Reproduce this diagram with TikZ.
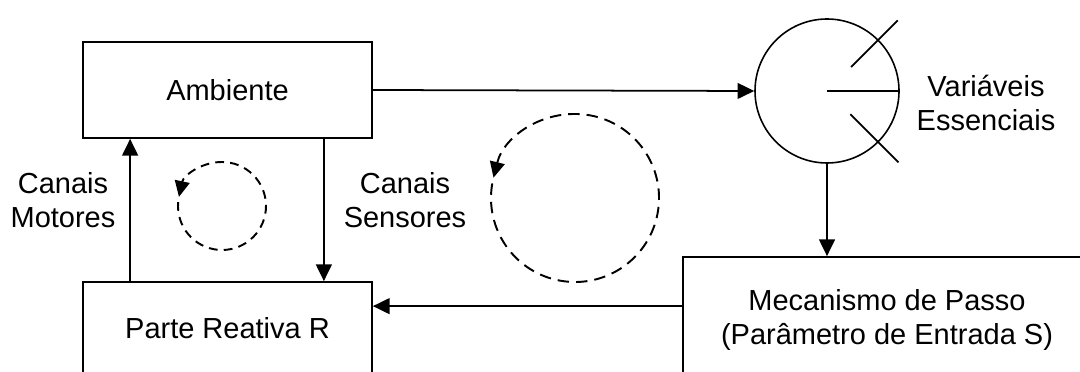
\documentclass[tikz,border=0pt]{standalone}
\usepackage{fontspec}
\setmainfont{Liberation Sans}
\usetikzlibrary{positioning, arrows.meta, calc}

\begin{document}
\begin{tikzpicture}[
  block/.style={rectangle, draw=black, line width=1pt, align=center,
                font=\fontsize{16.5}{19}\selectfont, inner sep=0pt},
  essvar/.style={circle, draw=black, line width=0.9pt, minimum size=2.88cm, inner sep=0pt},
  lbl/.style={align=center, font=\fontsize{16.5}{19}\selectfont, inner sep=0pt},
  flow/.style={-{Triangle[length=9.5pt, width=9pt]}, line width=1pt},
  loop/.style={-{Triangle[length=9pt, width=8.5pt]}, line width=1.1pt},
]
  \useasboundingbox (0,0) rectangle (21.6,7.42);
  \clip (0,0) rectangle (21.6,7.42);

  % Blocks
  \node[block, minimum width=5.78cm, minimum height=1.92cm] (amb) at (4.55,5.62) {Ambiente};
  \node[block, minimum width=5.78cm, minimum height=1.84cm] (rea) at (4.55,0.86) {Parte Reativa R};
  \node[block, minimum width=8.16cm, minimum height=2.52cm] (mec) at (17.74,1.02)
    {Mecanismo de Passo\\(Parâmetro de Entrada S)};

  % Essential variables dial
  \node[essvar] (ess) at (16.54,5.60) {};
  \draw[line width=1pt] (ess.center) -- (ess.east);
  \draw[line width=1pt] ($(ess.center)+(45:0.68)$) -- ($(ess.center)+(45:2.0)$);
  \draw[line width=1pt] ($(ess.center)+(-45:0.66)$) -- ($(ess.center)+(-45:2.02)$);

  % Labels
  \node[lbl] (motlbl) at (1.26,3.42) {Canais\\Motores};
  \node[lbl] (senlbl) at (8.10,3.42) {Canais\\Sensores};
  \node[lbl] (esslbl) at (19.72,5.36) {Variáveis\\Essenciais};

  % Connections
  \draw[flow] (amb.east) -- (ess.west);
  \draw[flow] (ess.south) -- (ess.south |- mec.north);
  \coordinate (mecout) at ([yshift=-1cm]mec.north west);
  \draw[flow] (mecout) -- (mecout -| rea.east);
  \coordinate (motout) at ([xshift=0.96cm]rea.north west);
  \draw[flow] (motout) -- (motout |- amb.south);
  \coordinate (senout) at ([xshift=-0.98cm]amb.south east);
  \draw[flow] (senout) -- (senout |- rea.north);

  % Feedback loops
  \coordinate (innerloop) at (4.44,3.30);
  \coordinate (outerloop) at (11.5,3.46);
  \draw[loop, dash pattern=on 5pt off 3.5pt] ($(innerloop)+(-185:0.88)$)
    arc[start angle=-185, end angle=168, radius=0.88];
  \draw[loop, dash pattern=on 6.5pt off 4pt] ($(outerloop)+(-190:1.68)$)
    arc[start angle=-190, end angle=166, radius=1.68];
\end{tikzpicture}
\end{document}
